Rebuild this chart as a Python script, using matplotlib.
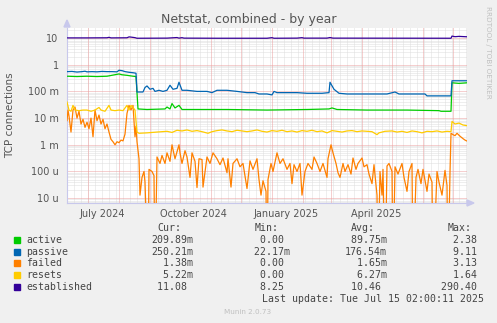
import matplotlib
matplotlib.use('Agg')
import matplotlib.pyplot as plt
from matplotlib.patches import Rectangle, Polygon
import numpy as np
import pandas as pd

W, H = 497, 323

# --- data ---
start = pd.Timestamp('2024-06-10 02:00')
end = pd.Timestamp('2025-07-15 02:00')

active_days = [0, 10, 20, 30, 40, 52, 55, 60, 66, 69, 71, 80, 98, 100, 103, 105, 108, 112, 115, 130,
               160, 200, 240, 262, 265, 270, 300, 340, 372, 374, 384, 385, 392, 400]
active_vals = [0.37, 0.36, 0.37, 0.36, 0.37, 0.45, 0.42, 0.40, 0.37, 0.36, 0.022, 0.021, 0.022, 0.026,
               0.022, 0.035, 0.024, 0.030, 0.021, 0.021, 0.021, 0.020, 0.021, 0.022, 0.024, 0.021,
               0.020, 0.020, 0.019, 0.018, 0.018, 0.21, 0.20, 0.21]

passive_days = [0, 5, 10, 15, 18, 20, 25, 30, 35, 40, 45, 50, 52, 55, 58, 62, 66, 69, 70, 76, 78, 80,
                83, 86, 88, 92, 96, 100, 103, 106, 110, 112, 115, 120, 130, 140, 145, 150, 160, 170,
                180, 188, 192, 200, 205, 207, 210, 230, 240, 255, 262, 263, 267, 272, 280, 300, 320,
                328, 332, 358, 360, 384, 385, 395, 400]
passive_vals = [0.55, 0.56, 0.53, 0.55, 0.57, 0.54, 0.55, 0.54, 0.56, 0.55, 0.55, 0.54, 0.62, 0.60,
                0.55, 0.52, 0.50, 0.48, 0.095, 0.095, 0.14, 0.16, 0.12, 0.13, 0.10, 0.11, 0.10, 0.11,
                0.17, 0.12, 0.13, 0.22, 0.11, 0.11, 0.10, 0.10, 0.09, 0.11, 0.11, 0.10, 0.09, 0.09,
                0.08, 0.08, 0.074, 0.10, 0.09, 0.09, 0.085, 0.085, 0.09, 0.22, 0.12, 0.085, 0.08,
                0.08, 0.08, 0.095, 0.08, 0.08, 0.068, 0.068, 0.25, 0.25, 0.25]

failed_days = [0, 1, 2, 4, 6, 8, 10, 12, 14, 16, 18, 20, 22, 24, 26, 28, 30, 32, 34, 36, 38, 40, 42,
               44, 46, 48, 50, 52, 54, 56, 58, 60, 62, 64, 66, 68, 69, 70, 72, 73, 75, 77, 78, 81, 82,
               85, 87, 88, 90, 93, 95, 98, 100, 103, 105, 108, 112, 113, 115, 118, 120, 123, 125, 128,
               130, 132, 135, 136, 140, 143, 146, 150, 153, 156, 160, 161, 164, 166, 170, 173, 176,
               180, 183, 186, 190, 192, 194, 196, 199, 200, 201, 204, 206, 210, 213, 216, 220, 223,
               225, 227, 230, 233, 235, 238, 241, 245, 247, 250, 253, 256, 260, 261, 264, 266, 269,
               271, 273, 276, 278, 281, 284, 286, 289, 291, 295, 297, 300, 302, 305, 307, 310, 311,
               313, 315, 316, 318, 320, 322, 325, 326, 328, 331, 335, 337, 340, 342, 345, 346, 349,
               351, 354, 356, 360, 362, 365, 366, 370, 372, 375, 378, 380, 381, 383, 384, 386, 388,
               390, 393, 396, 398, 400]
failed_vals = [0.008, 0.02, 0.012, 0.003, 0.02, 0.026, 0.01, 0.018, 0.006, 0.009, 0.0045, 0.007, 0.004,
               0.01, 0.002, 0.02, 0.008, 0.013, 0.006, 0.009, 0.004, 0.006, 0.003, 0.0016, 0.0013,
               0.001, 0.0013, 0.0012, 0.0015, 0.0014, 0.0025, 0.015, 0.03, 0.02, 0.03, 0.002, 0.005,
               0.0013, 0.0003, 0.000013, 0.00006, 0.0001, 0.00004, 0.0, 0.00012, 0.0001, 0.00007,
               0.0, 0.00035, 0.0002, 0.0004, 0.0002, 0.0005, 0.00024, 0.001, 0.0003, 0.001, 0.0005,
               0.0002, 0.0006, 0.00035, 0.00006, 0.0005, 0.00024, 0.000025, 0.0003, 0.00028,
               0.000026, 0.00035, 0.0002, 0.0005, 0.0003, 0.00018, 0.00032, 0.00009, 0.0003,
               0.000026, 0.0002, 0.0003, 0.00015, 0.0002, 0.000023, 0.00025, 0.00012, 0.0003,
               0.00005, 0.000013, 0.000045, 0.000018, 0.0, 0.00005, 0.0002, 0.0001, 0.0005, 0.0002,
               0.0003, 0.00012, 0.0002, 0.000035, 0.00018, 0.0001, 0.0002, 0.000013, 0.0001, 0.0002,
               0.00012, 0.00035, 0.0002, 0.0001, 0.0002, 0.00006, 0.0003, 0.001, 0.0005, 0.0002,
               0.00009, 0.00006, 0.0002, 0.0001, 0.00018, 0.00008, 0.00032, 0.00012, 0.0002, 0.00032,
               0.00015, 0.00018, 0.00008, 0.000035, 0.00018, 0.000013, 0.0, 0.0001, 0.000013,
               0.00012, 0.0, 0.00016, 0.0002, 0.0001, 0.0, 0.00015, 0.00008, 0.0002, 0.00006,
               0.000018, 0.0001, 0.0002, 0.0, 0.00006, 0.00012, 0.000035, 0.00012, 0.000018, 0.00008,
               0.00004, 0.0, 0.0001, 0.00004, 0.000013, 0.00011, 0.00003, 0.0, 0.00009, 0.0027,
               0.0024, 0.0022, 0.0027, 0.0021, 0.0017, 0.0015, 0.00138]

resets_days = [0, 2, 4, 6, 8, 12, 16, 20, 24, 28, 32, 34, 38, 42, 44, 48, 52, 56, 60, 62, 64, 66, 68,
               70, 72, 80, 90, 100, 105, 110, 115, 120, 125, 130, 135, 141, 145, 150, 155, 160, 165,
               170, 175, 180, 185, 190, 195, 200, 205, 210, 215, 220, 225, 230, 235, 240, 245, 250,
               255, 260, 265, 270, 275, 280, 285, 290, 295, 300, 305, 310, 312, 318, 325, 330, 335,
               340, 345, 350, 355, 360, 365, 370, 375, 380, 384, 385, 388, 392, 396, 400]
resets_vals = [0.04, 0.02, 0.018, 0.03, 0.02, 0.019, 0.02, 0.02, 0.018, 0.02, 0.025, 0.02, 0.018, 0.03,
               0.02, 0.019, 0.02, 0.019, 0.03, 0.02, 0.03, 0.025, 0.02, 0.003, 0.0027, 0.0028, 0.003,
               0.0032, 0.0029, 0.0035, 0.0033, 0.0036, 0.0032, 0.0034, 0.0031, 0.0027, 0.0031,
               0.0034, 0.0036, 0.0033, 0.0031, 0.0035, 0.0033, 0.0031, 0.0033, 0.0036, 0.0032, 0.003,
               0.0034, 0.0032, 0.0035, 0.0031, 0.0033, 0.003, 0.0034, 0.0032, 0.0035, 0.0031, 0.0033,
               0.0028, 0.0034, 0.0032, 0.003, 0.0033, 0.0034, 0.0031, 0.0033, 0.0032, 0.0031, 0.0024,
               0.0028, 0.0032, 0.0033, 0.003, 0.0032, 0.0029, 0.0033, 0.0031, 0.0028, 0.0032, 0.0031,
               0.0033, 0.003, 0.0032, 0.0031, 0.0075, 0.006, 0.0065, 0.0055, 0.0052]

established_days = [0, 20, 40, 42, 44, 60, 62, 64, 68, 70, 100, 110, 112, 115, 117, 150, 200, 205, 207,
                    230, 235, 237, 260, 263, 266, 384, 385, 388, 392, 400]
established_vals = [10.1, 10.1, 10.2, 10.6, 10.1, 10.2, 11.0, 10.8, 10.3, 9.8, 9.9, 10.4, 9.9, 10.3,
                    9.9, 9.8, 9.8, 10.3, 9.8, 9.9, 10.3, 9.9, 9.9, 10.4, 9.9, 9.8, 11.8, 11.2, 11.5, 11.1]

names = ['active', 'passive', 'failed', 'resets', 'established']
colors = ['#00CC00', '#0066B3', '#FF8000', '#FFCC00', '#330099']
cur = ['209.89m', '250.21m', '1.38m', '5.22m', '11.08 ']
mins = ['0.00 ', '22.17m', '0.00 ', '0.00 ', '8.25 ']
avgs = ['89.75m', '176.54m', '1.65m', '6.27m', '10.46 ']
maxs = ['2.38 ', '9.11 ', '3.13 ', '1.64 ', '290.40 ']

ytick_vals = [1e-5, 1e-4, 1e-3, 1e-2, 1e-1, 1, 10]
ytick_labels = ['10 u', '100 u', '1 m', '10 m', '100 m', '1', '10']
xlabel_dates = ['2024-07-15', '2024-10-15', '2025-01-15', '2025-04-15']
xlabel_text = ['July 2024', 'October 2024', 'January 2025', 'April 2025']


def px(x, y):
    return x / W, 1 - y / H


fig = plt.figure(figsize=(W / 100, H / 100), dpi=100, facecolor='#F0F0F0')
l, b = px(67, 203)
ax = fig.add_axes([l, b, 400 / W, 175 / H], facecolor='white')
ax.set_yscale('log')
ax.set_ylim(6.6e-6, 23.7)
ax.set_xlim(start, end)

# grid, drawn by hand like rrdtool does
dot = (0, (1, 1))
for e in range(-6, 2):
    for k in range(2, 10):
        ax.axhline(k * 10.0 ** e, color='#DEDEDE', lw=0.72, ls=dot, zorder=1)
for week in pd.date_range('2024-06-17', end, freq='7D'):
    ax.axvline(week, color='#DEDEDE', lw=0.72, ls=dot, zorder=1)
for e in range(-5, 2):
    ax.axhline(10.0 ** e, color='#EDA0A0', lw=0.72, ls=dot, zorder=2)
for month in pd.date_range('2024-07-01', end, freq='MS'):
    ax.axvline(month, color='#EDA0A0', lw=0.72, ls=dot, zorder=2)

series = [(active_days, active_vals), (passive_days, passive_vals), (failed_days, failed_vals),
          (resets_days, resets_vals), (established_days, established_vals)]
for (d, v), c in zip(series, colors):
    t = start + pd.to_timedelta(np.array(d, dtype=float), unit='D')
    v = np.maximum(np.array(v), 1e-8)  # zeros fall off the bottom like rrdtool
    ax.plot(t, v, color=c, lw=0.9, zorder=3)

ax.set_yticks(ytick_vals)
ax.set_yticklabels(ytick_labels)
ax.yaxis.set_minor_locator(matplotlib.ticker.NullLocator())
ax.set_xticks(pd.to_datetime(xlabel_dates))
ax.set_xticklabels(xlabel_text)
ax.tick_params(axis='both', length=0, labelsize=7, colors='#555555')
ax.tick_params(axis='y', pad=6)
ax.tick_params(axis='x', pad=4)
for s in ['top', 'right']:
    ax.spines[s].set_visible(False)
for s in ['left', 'bottom']:
    ax.spines[s].set_color('#C8C8EC')
    ax.spines[s].set_linewidth(0.8)

# axis arrows
fig.patches.append(Polygon([px(64, 27), px(70, 27), px(67, 20)], closed=True,
                           transform=fig.transFigure, color='#C8C8EC'))
fig.patches.append(Polygon([px(467, 200), px(467, 206), px(474, 203)], closed=True,
                           transform=fig.transFigure, color='#C8C8EC'))

fig.text(*px(248.5, 19), 'Netstat, combined - by year', ha='center', va='center',
         fontsize=9, color='#555555')
fig.text(*px(10, 115), 'TCP connections', rotation=90, ha='center', va='center',
         fontsize=7.5, color='#555555')
fig.text(*px(488, 52), 'RRDTOOL / TOBI OETIKER', rotation=270, ha='center', va='center',
         fontsize=5.2, color='#C0C0C0')

# legend
mono = dict(family='DejaVu Sans Mono', fontsize=7.1, color='#444444', va='center', ha='left')
cw = 5.97
fig.text(*px(157.2, 228), 'Cur:', **mono)
fig.text(*px(254.2, 228), 'Min:', **mono)
fig.text(*px(351.2, 228), 'Avg:', **mono)
fig.text(*px(447.2, 228), 'Max:', **mono)
rows = [240, 251.7, 263.4, 275.1, 286.8]
for i, y in enumerate(rows):
    x0, y0 = px(14, y + 3)
    fig.patches.append(Rectangle((x0, y0), 6 / W, 6 / H, transform=fig.transFigure,
                                 color=colors[i]))
    fig.text(*px(26, y), names[i], **mono)
    fig.text(*px(193 - 7 * cw, y), cur[i].rjust(7), **mono)
    fig.text(*px(290 - 7 * cw, y), mins[i].rjust(7), **mono)
    fig.text(*px(387 - 7 * cw, y), avgs[i].rjust(7), **mono)
    fig.text(*px(483 - 7 * cw, y), maxs[i].rjust(7), **mono)
fig.text(*px(483 - 37 * cw, 298.5), 'Last update: Tue Jul 15 02:00:11 2025', **mono)
fig.text(*px(248, 312), 'Munin 2.0.73', ha='center', va='center', fontsize=5.2, color='#C0C0C0')

fig.savefig('out.png', dpi=100, facecolor=fig.get_facecolor())
